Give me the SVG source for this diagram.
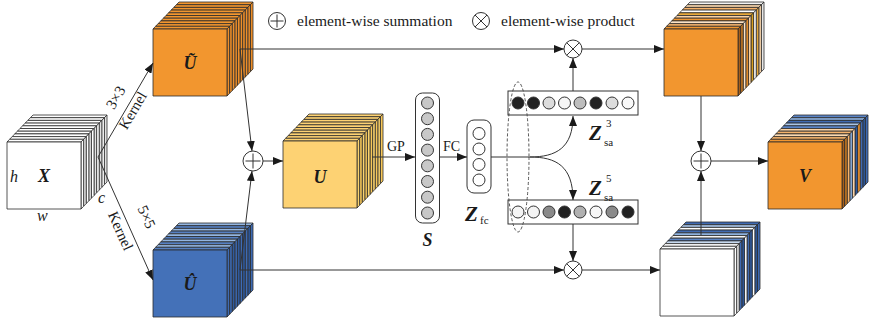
<svg xmlns="http://www.w3.org/2000/svg" xmlns:xlink="http://www.w3.org/1999/xlink" width="873" height="324" viewBox="0 0 873 324">
  <style>
    text { font-family: "Liberation Serif", "Times New Roman", serif; fill: #1a1a1a; }
    .bi { font-weight: bold; font-style: italic; font-size: 18px; }
    .bz { font-weight: bold; font-style: italic; font-size: 21px; }
    .it { font-style: italic; font-size: 16px; }
    .lbl { font-size: 14px; }
    .kl { font-size: 15px; }
    .sm { font-size: 11px; }
    .leg { font-size: 15.5px; }
    .face { stroke: #2b2b2b; stroke-width: 0.8; stroke-linejoin: round; }
    .op { fill: #fff; stroke: #333; stroke-width: 1; }
    .opl { stroke: #333; stroke-width: 1; fill: none; }
    .con { stroke: #333; stroke-width: 1; fill: none; }
    .arr { marker-end: url(#ah); }
    .node { stroke: #333; stroke-width: 1; }
  </style>
  <defs>
    <marker id="ah" markerUnits="userSpaceOnUse" markerWidth="10" markerHeight="8" refX="10" refY="4" orient="auto">
      <path d="M0,0 L10,4 L0,8 Z" fill="#1a1a1a"/>
    </marker>
    <!-- one thin feature-map slice: top strip takes the fill, side strip takes currentColor -->
    <g id="slab" class="face">
      <polygon points="0,0 74,0 76.6,-2.7 2.6,-2.7"/>
      <polygon points="74,0 74,67 76.6,64.3 76.6,-2.7" fill="currentColor"/>
    </g>
  </defs>

  <!-- legend -->
  <g id="legend">
    <circle class="op" cx="277" cy="21" r="8.5"/>
    <path class="opl" d="M270.5,21 H283.5 M277,14.5 V27.5"/>
    <text class="leg" x="297" y="26">element-wise summation</text>
    <circle class="op" cx="481" cy="21" r="8.5"/>
    <path class="opl" d="M475,15 L487,27 M487,15 L475,27"/>
    <text class="leg" x="501" y="26">element-wise product</text>
  </g>

  <!-- input feature map X -->
  <g id="X" transform="translate(7,142)">
    <use href="#slab" x="23.4" y="-24.3" fill="#fff" color="#e2e2e2"/>
    <use href="#slab" x="20.8" y="-21.6" fill="#fff" color="#fff"/>
    <use href="#slab" x="18.2" y="-18.9" fill="#fff" color="#e2e2e2"/>
    <use href="#slab" x="15.6" y="-16.2" fill="#fff" color="#fff"/>
    <use href="#slab" x="13" y="-13.5" fill="#fff" color="#e2e2e2"/>
    <use href="#slab" x="10.4" y="-10.8" fill="#fff" color="#fff"/>
    <use href="#slab" x="7.8" y="-8.1" fill="#fff" color="#e2e2e2"/>
    <use href="#slab" x="5.2" y="-5.4" fill="#fff" color="#fff"/>
    <use href="#slab" x="2.6" y="-2.7" fill="#fff" color="#e2e2e2"/>
    <use href="#slab" x="0" y="0" fill="#fff" color="#fff"/>
    <rect class="face" width="74" height="67" fill="#fff"/>
    <text class="it" x="3" y="40">h</text>
    <text class="bi" x="31" y="40">X</text>
    <text class="it" x="30" y="79">w</text>
    <text class="it" x="91" y="61">c</text>
  </g>

  <!-- U tilde (3x3 branch) -->
  <g id="U3" transform="translate(153,29)">
    <use href="#slab" x="23.4" y="-24.3" fill="#F2962F" color="#EE8F2A"/>
    <use href="#slab" x="20.8" y="-21.6" fill="#F2962F" color="#EE8F2A"/>
    <use href="#slab" x="18.2" y="-18.9" fill="#F2962F" color="#EE8F2A"/>
    <use href="#slab" x="15.6" y="-16.2" fill="#F2962F" color="#EE8F2A"/>
    <use href="#slab" x="13" y="-13.5" fill="#F2962F" color="#EE8F2A"/>
    <use href="#slab" x="10.4" y="-10.8" fill="#F2962F" color="#EE8F2A"/>
    <use href="#slab" x="7.8" y="-8.1" fill="#F2962F" color="#EE8F2A"/>
    <use href="#slab" x="5.2" y="-5.4" fill="#F2962F" color="#EE8F2A"/>
    <use href="#slab" x="2.6" y="-2.7" fill="#F2962F" color="#EE8F2A"/>
    <use href="#slab" x="0" y="0" fill="#F2962F" color="#EE8F2A"/>
    <rect class="face" width="74" height="67" fill="#F2962F"/>
    <text class="bi" x="37" y="40" text-anchor="middle">Ũ</text>
  </g>

  <!-- U hat (5x5 branch) -->
  <g id="U5" transform="translate(153,250)">
    <use href="#slab" x="23.4" y="-24.3" fill="#93B5E0" color="#3E6BB4"/>
    <use href="#slab" x="20.8" y="-21.6" fill="#5680C2" color="#2F5A9E"/>
    <use href="#slab" x="18.2" y="-18.9" fill="#93B5E0" color="#3E6BB4"/>
    <use href="#slab" x="15.6" y="-16.2" fill="#5680C2" color="#2F5A9E"/>
    <use href="#slab" x="13" y="-13.5" fill="#93B5E0" color="#3E6BB4"/>
    <use href="#slab" x="10.4" y="-10.8" fill="#5680C2" color="#2F5A9E"/>
    <use href="#slab" x="7.8" y="-8.1" fill="#93B5E0" color="#3E6BB4"/>
    <use href="#slab" x="5.2" y="-5.4" fill="#5680C2" color="#2F5A9E"/>
    <use href="#slab" x="2.6" y="-2.7" fill="#93B5E0" color="#3E6BB4"/>
    <use href="#slab" x="0" y="0" fill="#5680C2" color="#3E6BB4"/>
    <rect class="face" width="74" height="67" fill="#4471B8"/>
    <text class="bi" x="37" y="40" text-anchor="middle">Û</text>
  </g>

  <!-- fused map U -->
  <g id="U" transform="translate(283,141)">
    <use href="#slab" x="23.4" y="-24.3" fill="#FDD273" color="#F8C85A"/>
    <use href="#slab" x="20.8" y="-21.6" fill="#FDD273" color="#FBD46E"/>
    <use href="#slab" x="18.2" y="-18.9" fill="#FDD273" color="#F8C85A"/>
    <use href="#slab" x="15.6" y="-16.2" fill="#FDD273" color="#FBD46E"/>
    <use href="#slab" x="13" y="-13.5" fill="#FDD273" color="#F8C85A"/>
    <use href="#slab" x="10.4" y="-10.8" fill="#FDD273" color="#FBD46E"/>
    <use href="#slab" x="7.8" y="-8.1" fill="#FDD273" color="#F8C85A"/>
    <use href="#slab" x="5.2" y="-5.4" fill="#FDD273" color="#FBD46E"/>
    <use href="#slab" x="2.6" y="-2.7" fill="#FDD273" color="#F8C85A"/>
    <use href="#slab" x="0" y="0" fill="#FDD273" color="#FBD46E"/>
    <rect class="face" width="74" height="67" fill="#FDD273"/>
    <text class="bi" x="37" y="42" text-anchor="middle">U</text>
  </g>

  <!-- global pooled vector S -->
  <g id="S">
    <rect class="node" x="415.5" y="93" width="24" height="130" rx="7" fill="#fff"/>
    <g class="node" fill="#c8c8c8">
      <circle cx="427.5" cy="103" r="6"/>
      <circle cx="427.5" cy="118.7" r="6"/>
      <circle cx="427.5" cy="134.4" r="6"/>
      <circle cx="427.5" cy="150.1" r="6"/>
      <circle cx="427.5" cy="165.8" r="6"/>
      <circle cx="427.5" cy="181.5" r="6"/>
      <circle cx="427.5" cy="197.2" r="6"/>
      <circle cx="427.5" cy="213" r="6"/>
    </g>
    <text class="bi" x="427.5" y="246" text-anchor="middle">S</text>
  </g>

  <!-- compact vector Z_fc -->
  <g id="Zfc">
    <rect class="node" x="467" y="120" width="24" height="73" rx="7" fill="#fff"/>
    <g class="node" fill="#fff">
      <circle cx="479" cy="133.5" r="6"/>
      <circle cx="479" cy="149" r="6"/>
      <circle cx="479" cy="164.5" r="6"/>
      <circle cx="479" cy="180" r="6"/>
    </g>
    <text class="bz" x="465" y="221">Z</text>
    <text class="sm" x="480" y="224">fc</text>
  </g>

  <!-- attention vector for the 3x3 branch -->
  <g id="Zsa3">
    <rect class="node" x="508" y="91" width="130" height="24" fill="#fff"/>
    <g class="node">
      <circle cx="518" cy="103" r="6" fill="#222"/>
      <circle cx="533.5" cy="103" r="6" fill="#222"/>
      <circle cx="549" cy="103" r="6" fill="#dcdcdc"/>
      <circle cx="564.5" cy="103" r="6" fill="#f6f6f6"/>
      <circle cx="580" cy="103" r="6" fill="#bdbdbd"/>
      <circle cx="596" cy="103" r="6" fill="#222"/>
      <circle cx="612" cy="103" r="6" fill="#dcdcdc"/>
      <circle cx="628" cy="103" r="6" fill="#f8f8f8"/>
    </g>
    <text class="bz" x="589" y="140">Z</text>
    <text class="sm" x="606" y="127">3</text>
    <text class="sm" x="604" y="146">sa</text>
  </g>

  <!-- attention vector for the 5x5 branch -->
  <g id="Zsa5">
    <rect class="node" x="508" y="200" width="130" height="24" fill="#fff"/>
    <g class="node">
      <circle cx="518" cy="212" r="6" fill="#f4f4f4"/>
      <circle cx="533.5" cy="212" r="6" fill="#f4f4f4"/>
      <circle cx="549" cy="212" r="6" fill="#8a8a8a"/>
      <circle cx="564.5" cy="212" r="6" fill="#222"/>
      <circle cx="580" cy="212" r="6" fill="#b0b0b0"/>
      <circle cx="596" cy="212" r="6" fill="#f6f6f6"/>
      <circle cx="612" cy="212" r="6" fill="#8a8a8a"/>
      <circle cx="628" cy="212" r="6" fill="#222"/>
    </g>
    <text class="bz" x="589" y="195">Z</text>
    <text class="sm" x="606" y="182">5</text>
    <text class="sm" x="604" y="201">sa</text>
  </g>

  <!-- dashed grouping of the first channel -->
  <ellipse id="channel" cx="518" cy="157" rx="11" ry="75" fill="none" stroke="#444" stroke-width="0.9" stroke-dasharray="3 2"/>

  <!-- weighted 3x3 branch -->
  <g id="W3" transform="translate(664,29)">
    <use href="#slab" x="23.4" y="-24.3" fill="#f4f4f4" color="#e6e6e6"/>
    <use href="#slab" x="20.8" y="-21.6" fill="#FCD9B0" color="#FCD9B0"/>
    <use href="#slab" x="18.2" y="-18.9" fill="#F6B36B" color="#E8A93A"/>
    <use href="#slab" x="15.6" y="-16.2" fill="#FFFFFF" color="#FFFFFF"/>
    <use href="#slab" x="13" y="-13.5" fill="#E8A93A" color="#D9A020"/>
    <use href="#slab" x="10.4" y="-10.8" fill="#FBD3A6" color="#FBD3A6"/>
    <use href="#slab" x="7.8" y="-8.1" fill="#F2962F" color="#F2962F"/>
    <use href="#slab" x="5.2" y="-5.4" fill="#FCE3C6" color="#FCE3C6"/>
    <use href="#slab" x="2.6" y="-2.7" fill="#F6B36B" color="#C77A22"/>
    <use href="#slab" x="0" y="0" fill="#F2962F" color="#A65F1A"/>
    <rect class="face" width="74" height="67" fill="#F2962F"/>
  </g>

  <!-- weighted 5x5 branch -->
  <g id="W5" transform="translate(660,249)">
    <use href="#slab" x="23.4" y="-24.3" fill="#3F6AB2" color="#3F6AB2"/>
    <use href="#slab" x="20.8" y="-21.6" fill="#A9C4E6" color="#2F5A9E"/>
    <use href="#slab" x="18.2" y="-18.9" fill="#FFFFFF" color="#FFFFFF"/>
    <use href="#slab" x="15.6" y="-16.2" fill="#3F6AB2" color="#2F5A9E"/>
    <use href="#slab" x="13" y="-13.5" fill="#8DB1DE" color="#3F6AB2"/>
    <use href="#slab" x="10.4" y="-10.8" fill="#F4F4F4" color="#F4F4F4"/>
    <use href="#slab" x="7.8" y="-8.1" fill="#5A84C6" color="#2F5A9E"/>
    <use href="#slab" x="5.2" y="-5.4" fill="#C7D9EF" color="#3F6AB2"/>
    <use href="#slab" x="2.6" y="-2.7" fill="#FFFFFF" color="#E8E8E8"/>
    <use href="#slab" x="0" y="0" fill="#FFFFFF" color="#FFFFFF"/>
    <rect class="face" width="74" height="67" fill="#fff"/>
  </g>

  <!-- output V -->
  <g id="V" transform="translate(768,142)">
    <use href="#slab" x="23.4" y="-24.3" fill="#5A84C6" color="#3F6AB2"/>
    <use href="#slab" x="20.8" y="-21.6" fill="#8DB1DE" color="#2F5A9E"/>
    <use href="#slab" x="18.2" y="-18.9" fill="#3F6AB2" color="#3F6AB2"/>
    <use href="#slab" x="15.6" y="-16.2" fill="#A9C4E6" color="#F2962F"/>
    <use href="#slab" x="13" y="-13.5" fill="#5A84C6" color="#2F5A9E"/>
    <use href="#slab" x="10.4" y="-10.8" fill="#FBD3A6" color="#FBD3A6"/>
    <use href="#slab" x="7.8" y="-8.1" fill="#F6B36B" color="#8DB1DE"/>
    <use href="#slab" x="5.2" y="-5.4" fill="#FCD9B0" color="#F6B36B"/>
    <use href="#slab" x="2.6" y="-2.7" fill="#F6B36B" color="#C77A22"/>
    <use href="#slab" x="0" y="0" fill="#F2962F" color="#A65F1A"/>
    <rect class="face" width="74" height="67" fill="#F2962F"/>
    <text class="bi" x="37" y="40" text-anchor="middle">V</text>
  </g>

  <!-- operators -->
  <g id="sum1">
    <circle class="op" cx="253" cy="161" r="10"/>
    <path class="opl" d="M245.5,161 H260.5 M253,153.5 V168.5"/>
  </g>
  <g id="sum2">
    <circle class="op" cx="701" cy="161" r="10"/>
    <path class="opl" d="M693.5,161 H708.5 M701,153.5 V168.5"/>
  </g>
  <g id="prod3">
    <circle class="op" cx="573" cy="49" r="9"/>
    <path class="opl" d="M566.6,42.6 L579.4,55.4 M579.4,42.6 L566.6,55.4"/>
  </g>
  <g id="prod5">
    <circle class="op" cx="573" cy="270" r="9"/>
    <path class="opl" d="M566.6,263.6 L579.4,276.4 M579.4,263.6 L566.6,276.4"/>
  </g>

  <!-- connectors -->
  <g id="connectors">
    <path class="con arr" d="M98,157 L153,63"/>
    <path class="con arr" d="M98,157 L153,280"/>
    <path class="con arr" d="M240,49 L252,151"/>
    <path class="con arr" d="M240,270 L252,171"/>
    <path class="con arr" d="M263,161 L283,161"/>
    <path class="con arr" d="M372,157 L415,157"/>
    <path class="con arr" d="M439,157 L467,157"/>
    <path class="con" d="M491,157 L530,157"/>
    <path class="con arr" d="M530,157 C556,157 573,148 573,116"/>
    <path class="con arr" d="M530,157 C556,157 573,166 573,200"/>
    <path class="con arr" d="M573,91 L573,58"/>
    <path class="con arr" d="M573,224 L573,261"/>
    <path class="con arr" d="M240,49 L564,49"/>
    <path class="con arr" d="M582,49 L664,49"/>
    <path class="con arr" d="M240,270 L564,270"/>
    <path class="con arr" d="M582,270 L660,270"/>
    <path class="con arr" d="M701,96 L701,151"/>
    <path class="con arr" d="M701,235 L701,171"/>
    <path class="con arr" d="M711,161 L768,161"/>
  </g>

  <!-- connector labels -->
  <g id="labels">
    <text class="kl" transform="translate(120,100) rotate(-59.7)" text-anchor="middle">3×3</text>
    <text class="kl" transform="translate(137,113) rotate(-59.7)" text-anchor="middle">Kernel</text>
    <text class="kl" transform="translate(142,219) rotate(65.9)" text-anchor="middle">5×5</text>
    <text class="kl" transform="translate(116,233) rotate(65.9)" text-anchor="middle">Kernel</text>
    <text class="lbl" x="387" y="151">GP</text>
    <text class="lbl" x="443" y="151">FC</text>
  </g>
</svg>
